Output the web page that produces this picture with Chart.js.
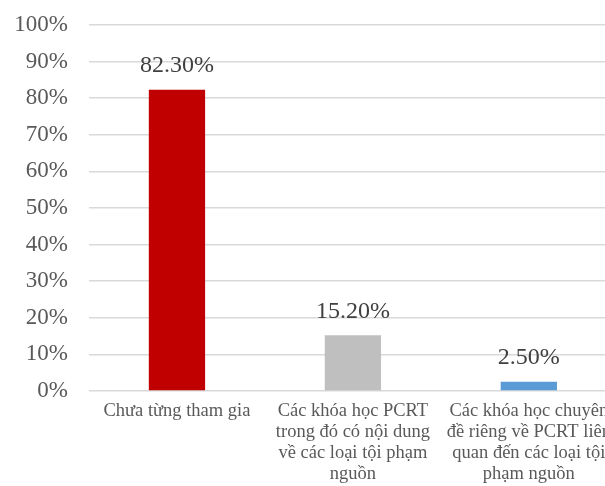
<!DOCTYPE html>
<html>
<head>
<meta charset="utf-8">
<script src="https://cdn.jsdelivr.net/npm/chart.js@4"></script>
<style>
  html, body { margin: 0; padding: 0; background: #fff; overflow: hidden; }
  #wrap { position: absolute; left: 0; top: 0; width: 621px; height: 490px; }
</style>
</head>
<body>
<div id="wrap"><canvas id="grafico"></canvas></div>
<script>
// categorias y valores (%)
const categorias = [
    ['Chưa từng tham gia'],
    ['Các khóa học PCRT', 'trong đó có nội dung', 'về các loại tội phạm', 'nguồn'],
    ['Các khóa học chuyên', 'đề riêng về PCRT liên', 'quan đến các loại tội', 'phạm nguồn']
];
const valores = [82.3, 15.2, 2.5];
const colores = ['#C00000', '#BFBFBF', '#5B9BD5'];
const ticksY = [0, 10, 20, 30, 40, 50, 60, 70, 80, 90, 100];

const fuente = "'Liberation Serif', 'Times New Roman', serif";

// etiquetas de valor encima de cada barra
const etiquetas = {
    id: 'etiquetas',
    afterDatasetsDraw(chart) {
        const ctx = chart.ctx;
        const meta = chart.getDatasetMeta(0);
        ctx.save();
        ctx.font = '24px ' + fuente;
        ctx.fillStyle = '#404040';
        ctx.textAlign = 'center';
        ctx.textBaseline = 'middle';
        meta.data.forEach(function (bar, i) {
            ctx.fillText(valores[i].toFixed(2) + '%', bar.x, bar.y - 24);
        });
        ctx.restore();
    }
};

new Chart(document.getElementById('grafico'), {
    type: 'bar',
    data: {
        labels: categorias,
        datasets: [{
            data: valores,
            backgroundColor: colores,
            categoryPercentage: 1,
            barPercentage: 0.32
        }]
    },
    options: {
        responsive: true,
        maintainAspectRatio: false,
        animation: false,
        layout: { padding: { top: 25, left: 0, right: 0, bottom: 0 } },
        plugins: { legend: { display: false }, tooltip: { enabled: false } },
        scales: {
            x: {
                grid: { display: false, drawTicks: false },
                border: { display: false },
                ticks: {
                    color: '#595959',
                    font: { family: fuente, size: 18.5, lineHeight: 1.135 },
                    padding: 10,
                    maxRotation: 0,
                    autoSkip: false
                },
                afterFit(scale) { scale.height = 99; }
            },
            y: {
                min: 0,
                max: 100,
                afterBuildTicks(scale) { scale.ticks = ticksY.map(v => ({ value: v })); },
                grid: { color: '#D9D9D9', lineWidth: 1.5, drawTicks: false },
                border: { display: false },
                ticks: {
                    color: '#595959',
                    font: { family: fuente, size: 23 },
                    padding: 21,
                    callback: v => v + '%'
                },
                afterFit(scale) {
                    scale.width = 89;
                    scale.paddingTop = 0;
                    scale.paddingBottom = 0;
                }
            }
        }
    },
    plugins: [etiquetas]
});
</script>
</body>
</html>
